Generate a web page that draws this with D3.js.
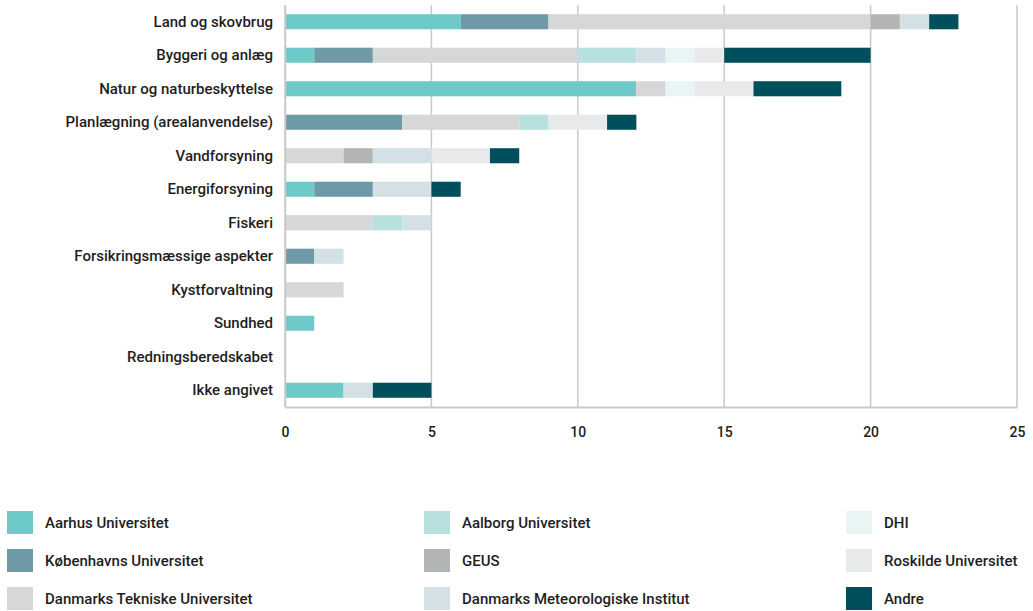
<!DOCTYPE html>
<html><head><meta charset="utf-8">
<script src="https://cdn.jsdelivr.net/npm/d3@7"></script>
<style>body{margin:0;background:#fff;}svg text{font-family:Roboto,"DejaVu Sans",sans-serif;}</style>
</head><body><svg id="c" width="1033" height="611"></svg>
<script>
const categories = ["Land og skovbrug","Byggeri og anlæg","Natur og naturbeskyttelse","Planlægning (arealanvendelse)","Vandforsyning","Energiforsyning","Fiskeri","Forsikringsmæssige aspekter","Kystforvaltning","Sundhed","Redningsberedskabet","Ikke angivet"];
const seriesNames = ["Aarhus Universitet","Københavns Universitet","Danmarks Tekniske Universitet","Aalborg Universitet","GEUS","Danmarks Meteorologiske Institut","DHI","Roskilde Universitet","Andre"];
const colors = ["#6dcac8","#6e9aa7","#d6d7d9","#b7e0df","#b3b4b5","#d3e0e5","#e9f5f5","#e8e9eb","#004f5d"];
const aarhus   = [6,1,12,0,0,1,0,0,0,1,0,2];
const kbh      = [3,2,0,4,0,2,0,1,0,0,0,0];
const dtu      = [11,7,1,4,2,0,3,0,2,0,0,0];
const aalborg  = [0,2,0,1,0,0,1,0,0,0,0,0];
const geus     = [1,0,0,0,1,0,0,0,0,0,0,0];
const dmi      = [1,1,0,0,2,2,1,1,0,0,0,1];
const dhi      = [0,1,1,0,0,0,0,0,0,0,0,0];
const roskilde = [0,1,2,2,2,0,0,0,0,0,0,0];
const andre    = [1,5,3,1,1,1,0,0,0,0,0,2];
const xTicks = [0,5,10,15,20,25];

const seriesValues = [aarhus,kbh,dtu,aalborg,geus,dmi,dhi,roskilde,andre];
const table = categories.map((c,i)=>{const o={cat:c}; seriesNames.forEach((s,j)=>o[s]=seriesValues[j][i]); return o;});
const stack = d3.stack().keys(seriesNames)(table);

const svg = d3.select("#c");
const m = {l:285, r:1017, t:5, b:407};
const x = d3.scaleLinear().domain([0,25]).range([m.l,m.r]);
const y = d3.scaleBand().domain(categories).range([m.t,m.b]).paddingInner(0.55).paddingOuter(0.275);

svg.append("g").selectAll("line").data(xTicks).join("line")
  .attr("x1",d=>x(d)).attr("x2",d=>x(d)).attr("y1",m.t).attr("y2",m.b)
  .attr("stroke","#c9c9c9").attr("stroke-width",1.5);

svg.append("g").selectAll("g").data(stack).join("g")
  .attr("fill",(d,i)=>colors[i])
  .selectAll("rect").data(d=>d).join("rect")
  .attr("x",d=>x(d[0])).attr("width",d=>x(d[1])-x(d[0]))
  .attr("y",d=>y(d.data.cat)).attr("height",y.bandwidth());

const xa = svg.append("g").attr("transform",`translate(0,${m.b})`)
  .call(d3.axisBottom(x).tickValues(xTicks).tickSize(0).tickPadding(20));
xa.select(".domain").attr("stroke","#c9c9c9").attr("stroke-width",2);
xa.selectAll("text").attr("font-size",14).attr("font-weight",500).attr("fill","#1e1e1e");

const ya = svg.append("g").attr("transform",`translate(${m.l},0)`)
  .call(d3.axisLeft(y).tickSize(0).tickPadding(12));
ya.select(".domain").attr("stroke","#c9c9c9").attr("stroke-width",1.5);
ya.selectAll("text").attr("font-size",15).attr("font-weight",500).attr("fill","#1e1e1e");

const colX = [7,424,846], rowY = [511,549,587];
const lg = svg.append("g").selectAll("g").data(seriesNames).join("g")
  .attr("transform",(d,i)=>`translate(${colX[Math.floor(i/3)]},${rowY[i%3]})`);
lg.append("rect").attr("width",26).attr("height",23).attr("fill",(d,i)=>colors[i]);
lg.append("text").attr("x",38).attr("y",12).attr("dy","0.35em").attr("font-size",15).attr("font-weight",500).attr("fill","#1e1e1e").text(d=>d);
</script></body></html>
